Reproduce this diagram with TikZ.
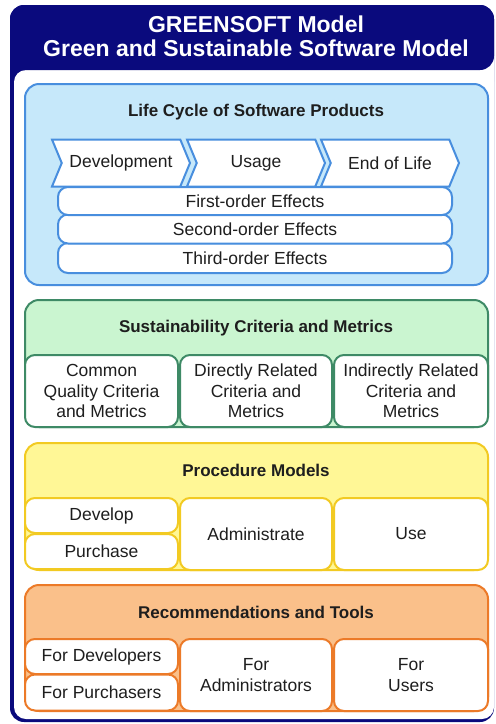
\documentclass[tikz,border=0pt]{standalone}
\usepackage{fontspec}
\setmainfont{Liberation Sans}
\usetikzlibrary{shapes.symbols}

\definecolor{gsnavy}{RGB}{10,10,125}
\definecolor{gsink}{RGB}{30,30,30}
\definecolor{lcfill}{RGB}{198,232,250}
\definecolor{lcline}{RGB}{72,142,222}
\definecolor{scfill}{RGB}{202,245,208}
\definecolor{scline}{RGB}{62,138,102}
\definecolor{pmfill}{RGB}{255,247,150}
\definecolor{pmline}{RGB}{242,202,34}
\definecolor{rtfill}{RGB}{250,192,138}
\definecolor{rtline}{RGB}{236,122,40}

\tikzset{
  panel/.style={rounded corners=14pt, line width=2pt},
  paneltitle/.style={font=\fontsize{17}{20}\selectfont\bfseries, text=gsink},
  subbox/.style={draw, fill=white, rectangle, rounded corners=10pt, line width=2pt,
    inner sep=0pt, align=center, text=gsink, font=\fontsize{17.5}{20.5}\selectfont},
  phase/.style={draw=lcline, fill=white, signal, signal to=east, signal from=west,
    signal pointer angle=135, line width=2pt, inner sep=0pt, minimum width=138pt,
    minimum height=47pt, text=gsink, font=\fontsize{17.5}{20.5}\selectfont},
}

\begin{document}
\begin{tikzpicture}[x=1pt, y=-1pt]
\useasboundingbox (0,0) rectangle (496,724);
% frame and header
\fill[gsnavy, rounded corners=14pt] (10,5) rectangle (494,722);
\fill[white, rounded corners=12pt] (14,70) rectangle (494,719);
\fill[white] (300,40) rectangle (494,90);
\fill[gsnavy, rounded corners=14pt] (10,5) rectangle (494,70);
\node[text=white, align=center, font=\fontsize{23}{24}\selectfont\bfseries] (head) at (256,36)
  {GREENSOFT Model\\Green and Sustainable Software Model};

% life cycle
\draw[panel, draw=lcline, fill=lcfill] (25,84) rectangle (488,285);
\node[paneltitle] (lctitle) at (256,112) {Life Cycle of Software Products};
\node[subbox, draw=lcline, minimum width=394pt, minimum height=30pt] (third) at (255,258) {Third-order Effects};
\node[subbox, draw=lcline, minimum width=394pt, minimum height=29pt] (second) at (255,229) {Second-order Effects};
\node[subbox, draw=lcline, minimum width=394pt, minimum height=28pt] (first) at (255,201) {First-order Effects};
\node[phase] (dev) at (121,163) {Development};
\node[phase] (usage) at (256,163) {Usage};
\node[phase] (eol) at (390,163) {End of Life};

% criteria and metrics
\draw[panel, draw=scline, fill=scfill] (25,300) rectangle (488,427);
\node[paneltitle] (sctitle) at (256,328) {Sustainability Criteria and Metrics};
\node[subbox, draw=scline, minimum width=153pt, minimum height=72pt] (common) at (101.5,391) {Common\\Quality Criteria\\and Metrics};
\node[subbox, draw=scline, minimum width=152pt, minimum height=72pt] (direct) at (256,391) {Directly Related\\Criteria and\\Metrics};
\node[subbox, draw=scline, minimum width=154pt, minimum height=72pt] (indirect) at (411,391) {Indirectly Related\\Criteria and\\Metrics};

% procedure models
\draw[panel, draw=pmline, fill=pmfill] (25,443) rectangle (488,570);
\node[paneltitle] (pmtitle) at (256,470) {Procedure Models};
\node[subbox, draw=pmline, minimum width=153pt, minimum height=35pt] (develop) at (101.5,515.5) {Develop};
\node[subbox, draw=pmline, minimum width=153pt, minimum height=35pt] (purchase) at (101.5,551.5) {Purchase};
\node[subbox, draw=pmline, minimum width=152pt, minimum height=72pt] (admin) at (256,534) {Administrate};
\node[subbox, draw=pmline, minimum width=154pt, minimum height=72pt] (use) at (411,534) {Use};

% recommendations and tools
\draw[panel, draw=rtline, fill=rtfill] (25,585) rectangle (488,711);
\node[paneltitle] (rttitle) at (256,612) {Recommendations and Tools};
\node[subbox, draw=rtline, minimum width=153pt, minimum height=35pt] (fordev) at (101.5,656.5) {For Developers};
\node[subbox, draw=rtline, minimum width=153pt, minimum height=36pt] (forpur) at (101.5,692.5) {For Purchasers};
\node[subbox, draw=rtline, minimum width=152pt, minimum height=72pt] (foradmin) at (256,675) {For\\Administrators};
\node[subbox, draw=rtline, minimum width=154pt, minimum height=72pt] (forusers) at (411,675) {For\\Users};
\end{tikzpicture}
\end{document}
